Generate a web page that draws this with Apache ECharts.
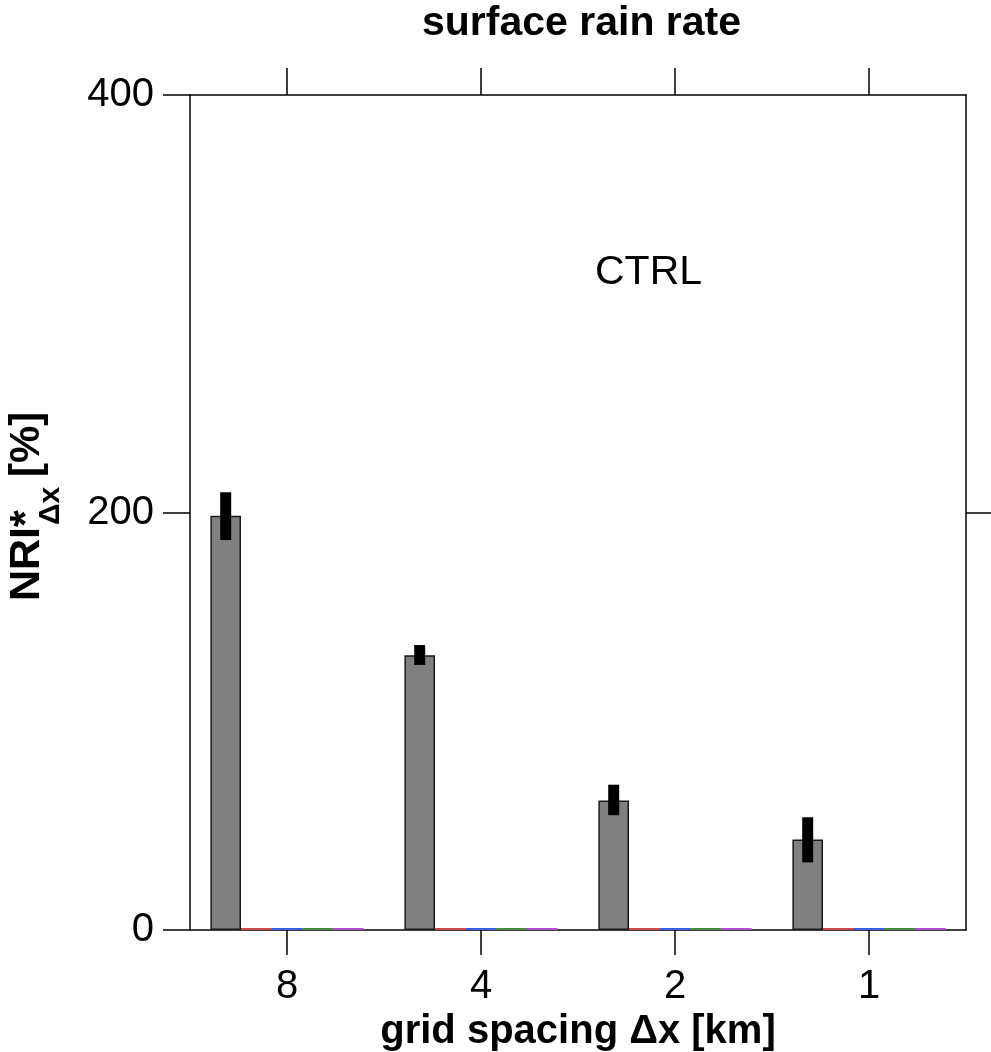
<!DOCTYPE html>
<html>
<head>
<meta charset="utf-8">
<script src="https://cdn.jsdelivr.net/npm/echarts@6/dist/echarts.min.js"></script>
<style>
  html, body { margin: 0; padding: 0; background: #fff; }
  #myChart { width: 991px; height: 1052px; }
</style>
</head>
<body>
<div id="myChart"></div>
<script>
// grid spacing categories (km)
var categories = ['8', '4', '2', '1'];
// CTRL experiment, NRI* values in %
var ctrlValues = [198.5, 131.6, 62.0, 43.4];
// spread of NRI* (low, high)
var errLow = [186.8, 127.0, 55.0, 32.4];
var errHigh = [209.7, 136.5, 69.6, 54.0];
// other experiments, all zero in this panel
var redValues = [0, 0, 0, 0];
var blueValues = [0, 0, 0, 0];
var greenValues = [0, 0, 0, 0];
var purpleValues = [0, 0, 0, 0];
var yTicks = [0, 200, 400];

var FONT = 'Liberation Sans';
var GAP = 0.21;
var NBARS = 5;

var errData = categories.map(function (c, i) { return [i, errLow[i], errHigh[i]]; });

var chart = echarts.init(document.getElementById('myChart'));

chart.setOption({
    animation: false,
    textStyle: { fontFamily: FONT },
    title: {
        text: 'surface rain rate',
        left: 422,
        top: 3,
        padding: 0,
        textStyle: { fontFamily: FONT, fontSize: 41, fontWeight: 'bold', color: '#000' }
    },
    grid: { left: 190, right: 25, top: 95, bottom: 122, containLabel: false, outerBoundsMode: 'none' },
    xAxis: [
        {
            type: 'category',
            data: categories,
            position: 'bottom',
            axisLine: { show: true, onZero: false, lineStyle: { color: '#000', width: 1.5 } },
            axisTick: { show: true, alignWithLabel: true, length: 25, lineStyle: { color: '#000', width: 1.5 } },
            axisLabel: { margin: 37, fontSize: 40, color: '#000', fontFamily: FONT },
            name: 'grid spacing Δx [km]',
            nameLocation: 'middle',
            nameGap: 68,
            nameTextStyle: { fontSize: 40, fontWeight: 'bold', color: '#000', fontFamily: FONT }
        },
        {
            type: 'category',
            data: categories,
            position: 'top',
            axisLine: { show: true, onZero: false, lineStyle: { color: '#000', width: 1.5 } },
            axisTick: { show: true, alignWithLabel: true, length: 27, lineStyle: { color: '#000', width: 1.5 } },
            axisLabel: { show: false }
        }
    ],
    yAxis: [
        {
            type: 'value',
            min: 0, max: 400, interval: 200,
            position: 'left',
            splitLine: { show: false },
            axisLine: { show: true, onZero: false, lineStyle: { color: '#000', width: 1.5 } },
            axisTick: { show: true, length: 27, lineStyle: { color: '#000', width: 1.5 } },
            axisLabel: {
                margin: 36, fontSize: 40, color: '#000', fontFamily: FONT,
                customValues: yTicks
            }
        },
        {
            type: 'value',
            min: 0, max: 400, interval: 200,
            position: 'right',
            splitLine: { show: false },
            axisLine: { show: true, onZero: false, lineStyle: { color: '#000', width: 1.5 } },
            axisTick: { show: true, length: 25, customValues: [200], lineStyle: { color: '#000', width: 1.5 } },
            axisLabel: { show: false }
        }
    ],
    graphic: [
        {
            type: 'text',
            left: 595, top: 252,
            style: { text: 'CTRL', fontSize: 41, fontFamily: FONT, fill: '#000' }
        },
        {
            type: 'group',
            x: 0, y: 601,
            rotation: Math.PI / 2,
            children: [
                { type: 'text', x: 0, y: 27, style: { text: 'NRI*', fontSize: 43, fontWeight: 'bold', fontFamily: FONT, fill: '#000', align: 'left', verticalAlign: 'middle' } },
                { type: 'text', x: 76, y: 51, style: { text: 'Δx', fontSize: 30, fontWeight: 'bold', fontFamily: FONT, fill: '#000', align: 'left', verticalAlign: 'middle' } },
                { type: 'text', x: 124, y: 27, style: { text: '[%]', fontSize: 42, fontWeight: 'bold', fontFamily: FONT, fill: '#000', align: 'left', verticalAlign: 'middle' } }
            ]
        }
    ],
    series: [
        {
            name: 'CTRL', type: 'bar', data: ctrlValues,
            barGap: '0%', barCategoryGap: (GAP * 100) + '%',
            itemStyle: { color: '#808080', borderColor: '#1a1a1a', borderWidth: 1.5 }
        },
        { name: 'red', type: 'bar', data: redValues, barMinHeight: 2, itemStyle: { color: '#d04848' } },
        { name: 'blue', type: 'bar', data: blueValues, barMinHeight: 2, itemStyle: { color: '#3c5ce0' } },
        { name: 'green', type: 'bar', data: greenValues, barMinHeight: 2, itemStyle: { color: '#4a8a40' } },
        { name: 'purple', type: 'bar', data: purpleValues, barMinHeight: 2, itemStyle: { color: '#b050d0' } },
        {
            name: 'spread', type: 'custom', data: errData, z: 5,
            encode: { x: 0, y: [1, 2] },
            renderItem: function (params, api) {
                var band = api.size([1, 0])[0];
                var barW = band * (1 - GAP) / NBARS;
                var cx = api.coord([api.value(0), 0])[0] - 2 * barW;
                var top = api.coord([api.value(0), api.value(2)])[1];
                var bot = api.coord([api.value(0), api.value(1)])[1];
                return {
                    type: 'rect',
                    shape: { x: cx - 5.5, y: top, width: 11, height: bot - top },
                    style: { fill: '#000' }
                };
            }
        }
    ]
});
</script>
</body>
</html>
